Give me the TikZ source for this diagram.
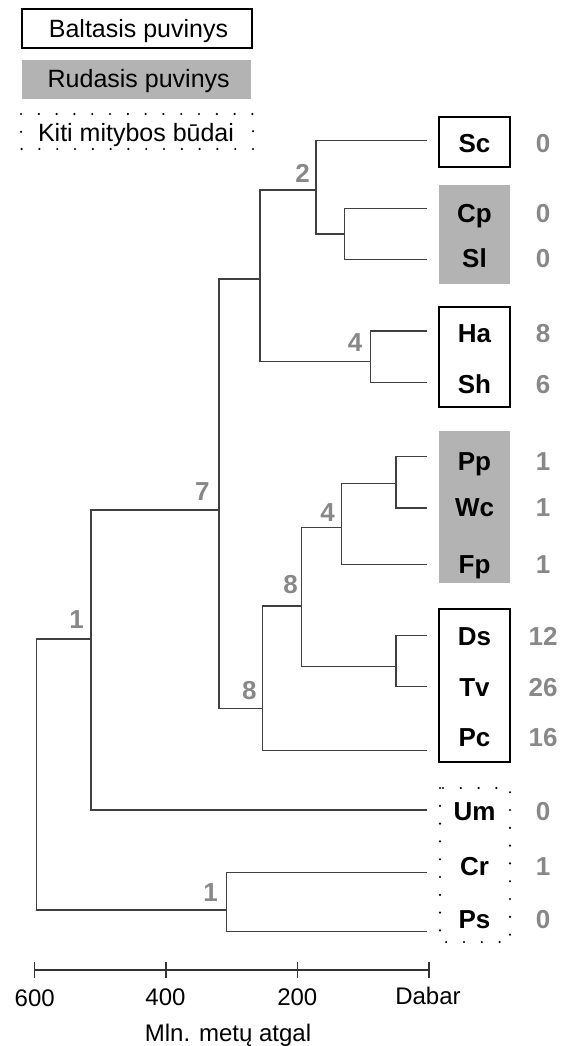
\documentclass[tikz,border=0pt]{standalone}
\usepackage{fontspec}
\setmainfont{Liberation Sans}
\definecolor{boxgray}{RGB}{179,179,179}
\definecolor{numgray}{RGB}{136,136,136}
\definecolor{linegray}{RGB}{64,64,64}
\begin{document}
\begin{tikzpicture}[x=1pt,y=-1pt,
  branch/.style={draw=linegray, line width=1.4pt},
  leaf/.style={font=\fontsize{26}{30}\selectfont\bfseries, anchor=base, inner sep=0pt},
  count/.style={font=\fontsize{26}{30}\selectfont\bfseries, text=numgray, anchor=base, inner sep=0pt},
  support/.style={font=\fontsize{26}{30}\selectfont\bfseries, text=numgray, inner sep=0pt},
  whitebox/.style={draw=black, line width=2pt, fill=white},
  graybox/.style={fill=boxgray},
  dotbox/.style={draw=black, line width=2.4pt, dash pattern=on 0pt off 17.8pt, line cap=round},
  legendtext/.style={font=\fontsize{25}{30}\selectfont, anchor=base, inner sep=0pt},
  axistext/.style={font=\fontsize{24}{28}\selectfont, anchor=base, inner sep=0pt},
  axisline/.style={draw=black!80, line width=1.5pt}]
\useasboundingbox (0,0) rectangle (574,1046);

% ---------- legend ----------
\draw[whitebox] (22,9) rectangle (252,48);
\fill[graybox] (22,60) rectangle (251,99);
\draw[dotbox] (21,114) rectangle (253,149);
\node[legendtext] (lgw) at (138.5,37.3) {Baltasis puvinys};
\node[legendtext] (lgb) at (138.7,87.3) {Rudasis puvinys};
\node[legendtext] (lgo) at (136,141.7) {Kiti mitybos būdai};

% ---------- group boxes ----------
\draw[whitebox] (439,117) rectangle (510,167);
\fill[graybox] (439,185) rectangle (510,284);
\draw[whitebox] (439,307) rectangle (510,407);
\fill[graybox] (439,431) rectangle (510,583);
\draw[whitebox] (439,609) rectangle (510,762);
\draw[dotbox] (440,788) rectangle (510,942);

% ---------- leaf labels and counts ----------
\foreach \nm/\yy/\cnt in {Sc/152.3/0, Cp/222.7/0, Sl/267.7/0, Ha/342.7/8, Sh/393.3/6,
  Pp/470/1, Wc/516.7/1, Fp/573.3/1, Ds/645/12, Tv/696/26, Pc/746.7/16,
  Um/820/0, Cr/875/1, Ps/928.3/0}{
  \node[leaf] (lab\nm) at (474.5,\yy) {\nm};
  \node[count] (cnt\nm) at (543,\yy) {\cnt};
}

% ---------- leaf ends ----------
\coordinate (eSc) at (427,140.7);
\coordinate (eCp) at (427,208.3);
\coordinate (eSl) at (427,259.3);
\coordinate (eHa) at (427,331);
\coordinate (eSh) at (427,382.3);
\coordinate (ePp) at (427,456.5);
\coordinate (eWc) at (427,508);
\coordinate (eFp) at (427,564.3);
\coordinate (eDs) at (427,635.7);
\coordinate (eTv) at (427,686.7);
\coordinate (ePc) at (427,750.7);
\coordinate (eUm) at (427,810);
\coordinate (eCr) at (427,872.3);
\coordinate (ePs) at (427,931.7);

% ---------- internal nodes ----------
\coordinate (nCS) at (344.7,234);
\coordinate (n2) at (316,190);
\coordinate (nHS) at (370.7,361.7);
\coordinate (nA) at (260,279);
\coordinate (nPW) at (396,483.3);
\coordinate (nDT) at (396,666.7);
\coordinate (n4b) at (341.7,527.7);
\coordinate (n8a) at (301.7,606);
\coordinate (n8b) at (262.3,708.3);
\coordinate (n7) at (219,510);
\coordinate (n1a) at (91,639);
\coordinate (nCP) at (226.7,910);
\coordinate (root) at (36.7,774);

% ---------- branches ----------
\draw[branch] (nCS) |- (eCp);
\draw[branch] (nCS) |- (eSl);
\draw[branch] (n2) |- (eSc);
\draw[branch] (n2) |- (nCS);
\draw[branch] (nHS) |- (eHa);
\draw[branch] (nHS) |- (eSh);
\draw[branch] (nA) |- (n2);
\draw[branch] (nA) |- (nHS);
\draw[branch] (nPW) |- (ePp);
\draw[branch] (nPW) |- (eWc);
\draw[branch] (n4b) |- (nPW);
\draw[branch] (n4b) |- (eFp);
\draw[branch] (nDT) |- (eDs);
\draw[branch] (nDT) |- (eTv);
\draw[branch] (n8a) |- (n4b);
\draw[branch] (n8a) |- (nDT);
\draw[branch] (n8b) |- (n8a);
\draw[branch] (n8b) |- (ePc);
\draw[branch] (n7) |- (nA);
\draw[branch] (n7) |- (n8b);
\draw[branch] (n1a) |- (n7);
\draw[branch] (n1a) |- (eUm);
\draw[branch] (nCP) |- (eCr);
\draw[branch] (nCP) |- (ePs);
\draw[branch] (root) |- (n1a);
\draw[branch] (root) |- (nCP);

% ---------- support values ----------
\node[support] (s2) at (302.7,173.3) {2};
\node[support] (s4a) at (355,343) {4};
\node[support] (s7) at (202.3,491.7) {7};
\node[support] (s1a) at (76.7,619.3) {1};
\node[support] (s4b) at (327.7,512.3) {4};
\node[support] (s8a) at (290.7,584.3) {8};
\node[support] (s8b) at (249.3,691) {8};
\node[support] (s1b) at (210.7,892.3) {1};

% ---------- time axis ----------
\coordinate (t600) at (34.7,970);
\coordinate (t400) at (166,970);
\coordinate (t200) at (297.3,970);
\coordinate (t0) at (429,970);
\draw[axisline] (t600) -- (t0);
\foreach \t in {t600,t400,t200,t0}{
  \draw[axisline] ([yshift=-8pt]\t) -- ([yshift=8pt]\t);
}
\node[axistext] (l600) at (34.7,1006.7) {600};
\node[axistext] (l400) at (165.5,1005) {400};
\node[axistext] (l200) at (297.3,1005) {200};
\node[axistext] (l0) at (428,1004) {Dabar};
\node[axistext] (ltitle) at (228,1041.7) {Mln. metų atgal};
\end{tikzpicture}
\end{document}
